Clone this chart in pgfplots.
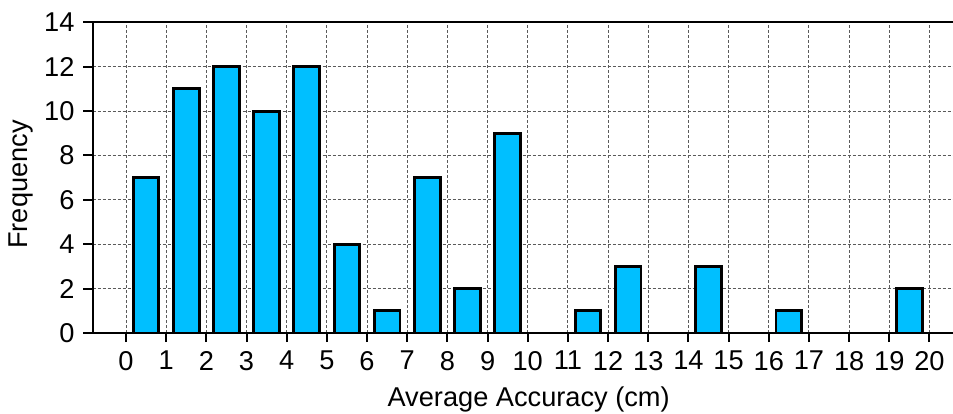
\documentclass[border=0pt]{standalone}
\usepackage{fontspec}
\setmainfont{Liberation Sans}
\usepackage{pgfplots}
\pgfplotsset{compat=1.18}
\definecolor{barblue}{RGB}{0,191,255}
\definecolor{gridgray}{RGB}{90,90,90}
\begin{document}
\begin{tikzpicture}
\path[use as bounding box] (0,0) rectangle (476.5pt,206.5pt);
\begin{axis}[
  at={(46.35pt,40pt)}, anchor=south west,
  scale only axis,
  width=431.65pt, height=155.35pt,
  xmin=-0.829, xmax=20.66,
  ymin=0, ymax=14,
  xtick={0,1,...,20},
  ytick={0,2,...,14},
  tick align=outside,
  xtick pos=lower, ytick pos=left,
  major tick length=4.6pt,
  tick style={line width=1pt, black},
  axis line style={line width=1.1pt},
  grid=major,
  major grid style={gridgray, line width=0.5pt, dash pattern=on 1.5pt off 1pt},
  font=\fontsize{13.6}{16}\selectfont,
  /pgf/number format/assume math mode=true,
  xticklabel style={yshift=-1pt},
  yticklabel style={xshift=-1pt},
  every axis x label/.style={at={(axis description cs:0.505,-0.235)}, anchor=base},
  every axis y label/.style={at={(axis description cs:-0.076,0.478)}, anchor=base, rotate=90},
  xlabel={Average Accuracy (cm)},
  ylabel={Frequency},
  ybar, bar width=0.64,
]
\addplot[fill=barblue, draw=black, line width=1.45pt] coordinates {
 (0.5,7) (1.5,11) (2.5,12) (3.5,10) (4.5,12) (5.5,4) (6.5,1) (7.5,7) (8.5,2) (9.5,9)
 (11.5,1) (12.5,3) (14.5,3) (16.5,1) (19.5,2)
};
\end{axis}
\end{tikzpicture}
\end{document}
